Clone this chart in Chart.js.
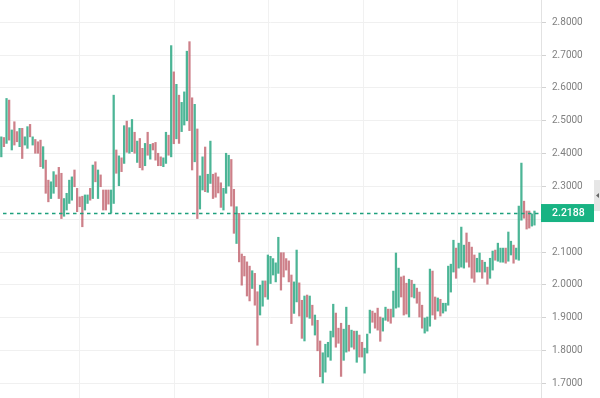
<!DOCTYPE html>
<html><head><meta charset="utf-8">
<script src="https://cdn.jsdelivr.net/npm/chart.js@4/dist/chart.umd.min.js"></script>
<style>html,body{margin:0;padding:0;background:#fff;overflow:hidden}canvas{display:block}</style>
</head><body>
<canvas id="c" width="600" height="398"></canvas>
<script>
// ---- data (one entry per bar, oldest first) ----
const highs = [2.451,2.449,2.568,2.563,2.472,2.497,2.467,2.477,2.477,2.451,
 2.482,2.489,2.451,2.443,2.436,2.441,2.421,2.380,2.319,2.314,
 2.345,2.335,2.358,2.340,2.263,2.279,2.319,2.329,2.350,2.294,
 2.268,2.270,2.274,2.274,2.294,2.365,2.375,2.350,2.335,2.289,
 2.289,2.289,2.289,2.578,2.411,2.393,2.387,2.485,2.499,2.479,
 2.504,2.465,2.438,2.446,2.416,2.431,2.465,2.428,2.431,2.434,
 2.401,2.390,2.387,2.465,2.456,2.729,2.649,2.611,2.578,2.556,
 2.588,2.712,2.741,2.570,2.550,2.475,2.332,2.390,2.420,2.337,
 2.438,2.337,2.341,2.329,2.311,2.294,2.401,2.395,2.382,2.291,
 2.238,2.218,2.094,2.087,2.070,2.057,2.043,2.035,1.979,1.999,
 2.012,2.012,2.091,2.087,2.080,2.067,2.145,2.098,2.098,2.080,
 2.073,2.030,2.009,2.106,2.006,1.953,1.966,1.969,1.966,1.938,
 1.908,1.892,1.829,1.793,1.819,1.825,1.859,1.941,1.914,1.868,
 1.883,1.865,1.932,1.877,1.862,1.859,1.859,1.847,1.825,1.807,
 1.850,1.923,1.920,1.914,1.929,1.902,1.899,1.932,1.926,1.926,
 1.981,2.097,2.051,2.024,2.027,2.005,2.017,2.014,2.002,1.990,
 1.978,1.938,1.899,1.902,2.048,2.042,1.963,1.960,1.956,1.944,
 1.944,2.057,2.063,2.136,2.112,2.127,2.176,2.121,2.158,2.130,
 2.115,2.091,2.081,2.097,2.075,2.069,2.054,2.081,2.103,2.106,
 2.127,2.112,2.112,2.112,2.161,2.133,2.121,2.112,2.240,2.371,
 2.255,2.225,2.225,2.216,2.225];

const lows = [2.390,2.421,2.431,2.441,2.411,2.426,2.436,2.421,2.385,2.426,
 2.416,2.451,2.426,2.401,2.401,2.360,2.355,2.279,2.253,2.263,
 2.279,2.299,2.263,2.202,2.209,2.228,2.248,2.258,2.299,2.223,
 2.238,2.177,2.228,2.248,2.258,2.263,2.314,2.263,2.299,2.228,
 2.228,2.246,2.219,2.248,2.340,2.302,2.345,2.370,2.404,2.401,
 2.406,2.401,2.373,2.357,2.350,2.363,2.395,2.383,2.411,2.380,
 2.363,2.363,2.360,2.370,2.395,2.390,2.430,2.445,2.431,2.467,
 2.487,2.500,2.470,2.350,2.375,2.202,2.231,2.289,2.284,2.282,
 2.309,2.263,2.267,2.280,2.236,2.228,2.279,2.301,2.240,2.157,
 2.126,2.070,1.999,2.027,1.966,1.951,1.989,1.938,1.816,1.908,
 1.935,1.963,1.956,2.004,2.030,2.009,2.035,1.984,2.024,2.045,
 2.009,1.882,1.913,1.948,1.905,1.837,1.829,1.902,1.898,1.877,
 1.847,1.799,1.720,1.701,1.734,1.780,1.770,1.841,1.810,1.822,
 1.721,1.770,1.795,1.798,1.810,1.804,1.764,1.780,1.780,1.731,
 1.792,1.853,1.886,1.868,1.862,1.828,1.859,1.892,1.889,1.883,
 1.902,1.929,1.932,1.963,1.908,1.911,1.902,1.963,1.960,1.944,
 1.902,1.868,1.853,1.859,1.874,1.908,1.895,1.920,1.905,1.914,
 1.920,1.938,1.978,2.039,2.020,2.051,2.054,2.051,2.069,2.054,
 2.020,2.008,2.039,2.039,2.020,2.039,2.002,2.020,2.045,2.075,
 2.072,2.069,2.069,2.066,2.072,2.091,2.066,2.078,2.075,2.197,
 2.203,2.170,2.173,2.179,2.182];

// 1 = bar closed up (green), 0 = closed down (red)
const closedUp = [1,0,1,0,1,0,0,1,0,1,
 1,0,1,0,0,0,1,0,0,1,
 1,0,0,0,1,1,1,1,0,0,
 0,0,1,1,0,1,0,1,0,0,
 0,0,1,1,0,1,0,1,0,1,
 1,0,1,0,0,1,0,1,0,0,
 0,0,1,1,0,1,0,1,0,1,
 1,1,0,0,1,0,1,1,0,1,
 1,0,0,0,0,1,1,1,0,0,
 1,0,0,0,0,0,1,0,0,1,
 1,0,1,1,1,1,1,0,0,0,
 0,0,1,1,0,0,1,0,1,0,
 1,0,0,1,1,1,1,1,0,0,
 0,1,1,0,1,0,1,0,0,1,
 1,1,0,0,0,0,1,1,0,0,
 1,1,1,0,0,0,1,0,1,0,
 0,0,1,1,1,0,0,1,0,1,
 1,1,1,1,0,1,1,1,0,0,
 0,0,1,1,0,1,0,1,1,0,
 1,1,1,0,1,1,0,1,1,1,
 0,0,0,1,1];

const yTickValues = [1.7,1.8,1.9,2.0,2.1,2.2,2.3,2.4,2.5,2.6,2.7,2.8];
const xGridAt = [30.1, 66.3, 102.4, 138.6, 174.7];
const lastPrice = 2.2188;
const slotCount = 207;

// ---- chart ----
const GREEN = 'rgba(45,168,132,0.85)';
const RED = 'rgba(192,96,108,0.8)';

const barData = highs.map((h, i) => ({ x: i, y: [lows[i], h] }));
const barColors = closedUp.map(u => u ? GREEN : RED);

const overlay = {
  id: 'overlay',
  afterDatasetsDraw(chart) {
    const { ctx, chartArea, scales } = chart;
    const y = Math.round(scales.y.getPixelForValue(lastPrice)) + 0.5;
    ctx.save();
    ctx.strokeStyle = 'rgb(30,160,125)';
    ctx.lineWidth = 1.4;
    ctx.setLineDash([3.5, 3.5]);
    ctx.lineDashOffset = -3;
    ctx.beginPath();
    ctx.moveTo(chartArea.left, y);
    ctx.lineTo(chartArea.right, y);
    ctx.stroke();
    ctx.restore();
  },
  afterDraw(chart) {
    const { ctx, chartArea, scales } = chart;
    const y = scales.y.getPixelForValue(lastPrice);
    ctx.save();
    // side tab
    ctx.fillStyle = '#e6e6e6';
    ctx.fillRect(594, y - 33, 6, 31);
    ctx.fillStyle = '#666';
    ctx.beginPath();
    ctx.moveTo(596, y - 17.5);
    ctx.lineTo(599, y - 20);
    ctx.lineTo(599, y - 15);
    ctx.closePath();
    ctx.fill();
    // price box
    ctx.fillStyle = 'rgb(24,179,131)';
    ctx.fillRect(chartArea.right, y - 9, 53, 18);
    ctx.fillStyle = '#fff';
    ctx.font = '500 10.5px Roboto, "Noto Sans", sans-serif';
    ctx.textAlign = 'left';
    ctx.textBaseline = 'middle';
    ctx.fillText(lastPrice.toFixed(4), chartArea.right + 11, y + 0.5);
    ctx.restore();
  }
};

new Chart(document.getElementById('c'), {
  type: 'bar',
  data: {
    datasets: [{
      data: barData,
      backgroundColor: barColors,
      borderWidth: 0,
      barThickness: 1.6,
      grouped: false
    }]
  },
  options: {
    responsive: false,
    animation: false,
    devicePixelRatio: 1,
    layout: { padding: 0 },
    plugins: { legend: { display: false }, tooltip: { enabled: false } },
    scales: {
      x: {
        type: 'linear',
        min: -0.5,
        max: slotCount - 0.5,
        offset: false,
        grid: { color: '#f1f1f1', drawTicks: false, offset: false },
        border: { display: false },
        ticks: { display: false },
        afterBuildTicks(s) { s.ticks = xGridAt.map(v => ({ value: v })); },
        afterFit(s) { s.height = 0; s.paddingLeft = 0; s.paddingRight = 0; }
      },
      y: {
        type: 'linear',
        position: 'right',
        min: 1.6552,
        max: 2.868,
        grid: { color: '#f0f0f0', tickColor: '#d2d2d2', tickLength: 5 },
        border: { color: '#e2e2e2' },
        ticks: {
          color: '#808080',
          padding: 6,
          font: { family: 'Roboto, "Noto Sans", sans-serif', size: 10 },
          callback: v => Number(v).toFixed(4)
        },
        afterBuildTicks(s) { s.ticks = yTickValues.map(v => ({ value: v })); },
        afterFit(s) { s.width = 59; s.paddingTop = 0; s.paddingBottom = 0; }
      }
    }
  },
  plugins: [overlay]
});
</script>
</body></html>
